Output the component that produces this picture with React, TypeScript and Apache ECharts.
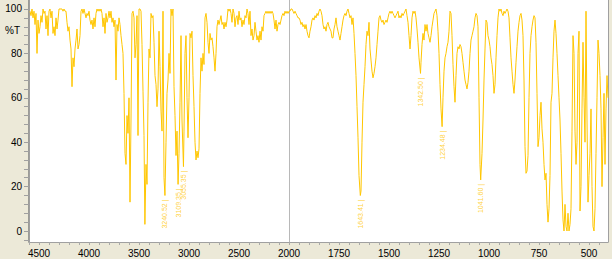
import React, { useEffect, useRef } from 'react';
import * as echarts from 'echarts';

// IR spectrum, wavenumber (cm-1) vs %T; region above 2000 cm-1
const highRange: [number, number][] = [
  [4590, 99], [4580, 97], [4570, 100], [4560, 96], [4550, 99], [4540, 93], [4530, 98], [4520, 80], [4510, 95], [4500, 89],
  [4490, 92], [4480, 97], [4470, 94], [4460, 100], [4450, 98], [4440, 99], [4430, 91], [4420, 97], [4410, 88], [4400, 99],
  [4390, 100], [4380, 96], [4370, 99], [4360, 89], [4350, 92], [4340, 88], [4330, 96], [4320, 91], [4310, 95], [4300, 100],
  [4290, 100], [4280, 100], [4270, 100], [4260, 99], [4250, 100], [4240, 99], [4230, 99], [4220, 94], [4210, 90], [4200, 92],
  [4190, 86], [4180, 82], [4170, 65], [4160, 78], [4150, 74], [4140, 82], [4130, 86], [4120, 91], [4110, 82], [4100, 84],
  [4090, 88], [4080, 99], [4070, 100], [4060, 98], [4050, 100], [4040, 98], [4030, 96], [4020, 98], [4010, 97], [4000, 99],
  [3990, 95], [3980, 93], [3970, 95], [3960, 91], [3950, 96], [3940, 92], [3930, 98], [3920, 100], [3910, 99], [3900, 100],
  [3890, 99], [3880, 100], [3870, 98], [3860, 92], [3850, 96], [3840, 89], [3830, 98], [3820, 94], [3810, 96], [3800, 99],
  [3790, 96], [3780, 99], [3770, 94], [3760, 96], [3750, 92], [3740, 95], [3730, 68], [3720, 93], [3710, 90], [3700, 96],
  [3690, 93], [3680, 88], [3670, 84], [3660, 80], [3650, 62], [3640, 35], [3630, 30], [3620, 52], [3610, 44], [3600, 60],
  [3590, 13], [3580, 50], [3570, 98], [3560, 99], [3550, 96], [3540, 78], [3530, 84], [3520, 97], [3510, 43], [3500, 100],
  [3490, 100], [3480, 99], [3470, 84], [3460, 63], [3450, 43], [3441, 3], [3430, 30], [3420, 21], [3410, 58], [3400, 82],
  [3390, 78], [3380, 98], [3370, 96], [3360, 97], [3350, 85], [3340, 70], [3330, 66], [3320, 56], [3310, 64], [3300, 90],
  [3290, 74], [3280, 54], [3270, 45], [3260, 99], [3250, 24], [3240.52, 16], [3230, 40], [3220, 62], [3210, 68], [3200, 80],
  [3190, 71], [3180, 100], [3170, 97], [3160, 100], [3150, 65], [3140, 52], [3130, 34], [3120, 45], [3109.35, 21], [3100, 35],
  [3090, 58], [3080, 88], [3070, 50], [3055.35, 29], [3050, 45], [3040, 80], [3030, 88], [3020, 60], [3010, 42], [3000, 60],
  [2990, 89], [2980, 87], [2970, 90], [2960, 70], [2950, 56], [2940, 40], [2930, 32], [2920, 36], [2910, 33], [2900, 37],
  [2890, 62], [2880, 78], [2870, 72], [2860, 80], [2850, 75], [2840, 96], [2830, 98], [2820, 94], [2810, 85], [2800, 80],
  [2790, 89], [2780, 86], [2770, 87], [2760, 83], [2750, 78], [2740, 72], [2730, 80], [2720, 92], [2710, 95], [2700, 93],
  [2690, 95], [2680, 97], [2670, 93], [2660, 94], [2650, 91], [2640, 94], [2630, 92], [2620, 95], [2610, 100], [2600, 99],
  [2590, 100], [2580, 98], [2570, 94], [2560, 100], [2550, 98], [2540, 92], [2530, 96], [2520, 97], [2510, 93], [2500, 99],
  [2490, 95], [2480, 96], [2470, 92], [2460, 95], [2450, 93], [2440, 97], [2430, 96], [2420, 100], [2410, 98], [2400, 93],
  [2390, 99], [2380, 88], [2370, 91], [2360, 86], [2350, 88], [2340, 94], [2330, 90], [2320, 86], [2310, 88], [2300, 85],
  [2290, 90], [2280, 86], [2270, 92], [2260, 90], [2250, 97], [2240, 98], [2230, 99], [2220, 98], [2210, 99], [2200, 98],
  [2190, 99], [2180, 98], [2170, 99], [2160, 98], [2150, 95], [2140, 91], [2130, 95], [2120, 90], [2110, 93], [2100, 94],
  [2090, 93], [2080, 95], [2070, 97], [2060, 98], [2050, 97], [2040, 99], [2030, 98], [2020, 99], [2010, 98], [2000, 99],
];

// region below 2000 cm-1 (drawn at double scale)
const lowRange: [number, number][] = [
  [2000, 99], [1995, 99], [1990, 100], [1985, 100], [1980, 99], [1975, 98], [1970, 99], [1965, 98], [1960, 97], [1955, 96],
  [1950, 96], [1945, 95], [1940, 93], [1935, 94], [1930, 92], [1925, 93], [1920, 91], [1915, 93], [1910, 90], [1905, 88],
  [1900, 87], [1895, 90], [1890, 92], [1885, 95], [1880, 96], [1875, 95], [1870, 97], [1865, 96], [1860, 98], [1855, 97],
  [1850, 99], [1845, 100], [1840, 99], [1835, 97], [1830, 93], [1825, 91], [1820, 92], [1815, 90], [1810, 93], [1805, 94],
  [1800, 92], [1795, 91], [1790, 90], [1785, 87], [1780, 87], [1775, 91], [1770, 93], [1765, 96], [1760, 92], [1755, 90],
  [1750, 88], [1745, 86], [1740, 89], [1735, 92], [1730, 95], [1725, 97], [1720, 98], [1715, 97], [1710, 99], [1705, 100],
  [1700, 98], [1695, 96], [1690, 97], [1685, 93], [1680, 96], [1675, 89], [1670, 80], [1665, 70], [1660, 56], [1655, 42],
  [1650, 25], [1643.41, 16], [1640, 18], [1635, 40], [1630, 58], [1625, 66], [1620, 74], [1615, 84], [1610, 90], [1605, 88],
  [1600, 94], [1595, 82], [1590, 77], [1585, 72], [1580, 69], [1575, 71], [1570, 74], [1565, 78], [1560, 84], [1555, 90],
  [1550, 96], [1545, 97], [1540, 95], [1535, 94], [1530, 95], [1525, 93], [1520, 94], [1515, 95], [1510, 94], [1505, 96],
  [1500, 98], [1495, 99], [1490, 98], [1485, 99], [1480, 98], [1475, 97], [1470, 96], [1465, 97], [1460, 98], [1455, 99],
  [1450, 96], [1445, 97], [1440, 96], [1435, 98], [1430, 97], [1425, 98], [1420, 99], [1415, 100], [1410, 97], [1405, 94],
  [1400, 88], [1395, 82], [1390, 88], [1385, 96], [1380, 99], [1375, 98], [1370, 99], [1365, 96], [1360, 91], [1355, 85],
  [1350, 78], [1342.5, 71], [1340, 76], [1335, 84], [1330, 89], [1325, 86], [1320, 93], [1315, 90], [1310, 93], [1305, 89],
  [1300, 87], [1295, 85], [1290, 88], [1285, 92], [1280, 95], [1275, 98], [1270, 99], [1265, 100], [1260, 97], [1255, 90],
  [1250, 80], [1245, 66], [1240, 55], [1234.48, 47], [1230, 60], [1225, 72], [1220, 78], [1215, 80], [1210, 83], [1205, 85],
  [1200, 90], [1195, 99], [1190, 98], [1185, 88], [1180, 75], [1175, 65], [1170, 58], [1165, 70], [1160, 80], [1155, 83],
  [1150, 82], [1145, 84], [1140, 83], [1135, 80], [1130, 76], [1125, 72], [1120, 68], [1115, 66], [1110, 64], [1105, 67],
  [1100, 72], [1095, 80], [1090, 86], [1085, 88], [1080, 90], [1075, 92], [1070, 96], [1065, 98], [1060, 97], [1055, 92],
  [1050, 60], [1045, 30], [1041.6, 23], [1035, 35], [1030, 50], [1025, 68], [1020, 82], [1015, 95], [1010, 94], [1005, 88],
  [1000, 86], [995, 83], [990, 78], [985, 75], [980, 70], [975, 62], [970, 66], [965, 78], [960, 88], [955, 96],
  [950, 100], [945, 99], [940, 100], [935, 98], [930, 97], [925, 99], [920, 98], [915, 99], [910, 100], [905, 99],
  [900, 96], [895, 87], [890, 78], [885, 72], [880, 66], [875, 62], [870, 68], [865, 76], [860, 83], [855, 90],
  [850, 94], [845, 97], [840, 98], [835, 95], [830, 88], [825, 68], [820, 38], [815, 26], [810, 27], [805, 34],
  [800, 60], [795, 80], [790, 88], [785, 92], [780, 95], [775, 97], [770, 96], [765, 85], [760, 62], [755, 38],
  [750, 42], [745, 52], [740, 58], [735, 46], [730, 40], [725, 30], [720, 23], [715, 26], [710, 12], [705, 4],
  [700, 10], [695, 25], [690, 58], [685, 62], [680, 78], [675, 90], [670, 95], [665, 89], [660, 80], [655, 70],
  [650, 60], [645, 50], [640, 35], [635, 18], [630, 5], [625, 0], [620, 12], [615, 2], [610, 0], [605, 8],
  [600, 0], [595, 3], [590, 10], [585, 45], [580, 88], [575, 80], [570, 45], [565, 30], [560, 40], [555, 80],
  [550, 90], [545, 9], [540, 20], [535, 55], [530, 85], [525, 60], [520, 40], [515, 99], [510, 50], [505, 13],
  [500, 25], [495, 35], [490, 55], [485, 20], [480, 2], [475, 0], [470, 10], [465, 35], [460, 60], [455, 86],
  [450, 80], [445, 70], [440, 55], [435, 20], [430, 42], [425, 62], [420, 30], [415, 55], [410, 70], [405, 60],
];

const peakWavenumbers = [3240.52, 3109.35, 3055.35, 1643.41, 1342.5, 1234.48, 1041.6];
const peakTransmittance = [16, 21, 29, 16, 71, 47, 23];

const yLabelValues = [0, 20, 40, 60, 80, 100];
const xLabelsHigh = [4500, 4000, 3500, 3000, 2500, 2000];
const xLabelsLow = [1750, 1500, 1250, 1000, 750, 500];

const yTicks: number[] = [];
for (let v = -4; v <= 100; v += 4) yTicks.push(v);
const xTicksHigh: number[] = [];
for (let v = 2000; v <= 4600; v += 100) xTicksHigh.push(v);
const xTicksLow: number[] = [];
for (let v = 450; v <= 2000; v += 50) xTicksLow.push(v);

const FONT = '"Liberation Sans Narrow", "Liberation Sans", Arial, sans-serif';
const LINE = '#FFC600';
const Y_MIN = -4.95;
const Y_MAX = 104.05;

export default function App() {
  const ref = useRef<HTMLDivElement>(null);
  useEffect(() => {
    if (!ref.current) return;
    const chart = echarts.init(ref.current, undefined, { renderer: 'svg' });

    const peaksHigh: [number, number][] = [];
    const peaksLow: [number, number][] = [];
    peakWavenumbers.forEach((w, i) => {
      (w > 2000 ? peaksHigh : peaksLow).push([w, peakTransmittance[i]]);
    });

    const xAxisBase = (gridIndex: number, min: number, max: number, ticks: number[], labels: number[]) => ({
      type: 'value',
      gridIndex,
      inverse: true,
      min,
      max,
      axisLine: { show: true, onZero: false, lineStyle: { color: '#A0A0A0', width: 1 } },
      axisTick: { show: true, length: 3, customValues: ticks, lineStyle: { color: '#A8A8A8' } },
      axisLabel: {
        show: true,
        customValues: labels,
        margin: 6,
        fontSize: 10,
        color: '#000',
        fontFamily: FONT,
        formatter: (v: number) => String(Math.round(v)),
      },
      splitLine: { show: false },
    });

    const peakLabel = {
      show: true,
      position: 'bottom',
      distance: 4,
      rotate: 90,
      align: 'right',
      verticalAlign: 'middle',
      color: LINE,
      fontSize: 7,
      fontFamily: '"Liberation Sans", Arial, sans-serif',
      formatter: (p: any) => p.value[0].toFixed(2) + ' |',
    };

    chart.setOption({
      animation: false,
      backgroundColor: '#ECE9D8',
      grid: [
        { left: 29, top: 0, width: 260, height: 242, show: true, backgroundColor: '#FFFFFF', borderWidth: 0 },
        { left: 289, top: 0, width: 319, height: 242, show: true, backgroundColor: '#FFFFFF', borderWidth: 0 },
      ],
      xAxis: [
        xAxisBase(0, 2000, 4600, xTicksHigh, xLabelsHigh),
        xAxisBase(1, 405, 2000, xTicksLow, xLabelsLow),
      ],
      yAxis: [
        {
          type: 'value',
          gridIndex: 0,
          min: Y_MIN,
          max: Y_MAX,
          axisLine: { show: true, onZero: false, lineStyle: { color: '#808080', width: 1.5 } },
          axisTick: { show: true, length: 5, customValues: yTicks, lineStyle: { color: '#A0A0A0' } },
          axisLabel: {
            show: true,
            customValues: yLabelValues,
            margin: 7,
            fontSize: 10,
            color: '#000',
            fontFamily: FONT,
            formatter: (v: number) => String(Math.round(v)),
          },
          splitLine: { show: false },
        },
        {
          type: 'value',
          gridIndex: 1,
          min: Y_MIN,
          max: Y_MAX,
          position: 'left',
          axisLine: { show: true, onZero: false, lineStyle: { color: '#B8B8B8', width: 1 } },
          axisTick: { show: false },
          axisLabel: { show: false },
          splitLine: { show: false },
        },
        {
          type: 'value',
          gridIndex: 1,
          min: Y_MIN,
          max: Y_MAX,
          position: 'right',
          axisLine: { show: true, onZero: false, lineStyle: { color: '#A0A0A0', width: 1 } },
          axisTick: { show: false },
          axisLabel: { show: false },
          splitLine: { show: false },
        },
      ],
      graphic: [
        {
          type: 'text',
          left: 5,
          top: 25,
          style: { text: '%T', fontSize: 10, fill: '#000', fontFamily: FONT },
        },
      ],
      series: [
        {
          type: 'line',
          xAxisIndex: 0,
          yAxisIndex: 0,
          data: highRange,
          showSymbol: false,
          lineStyle: { color: LINE, width: 1 },
          clip: true,
        },
        {
          type: 'line',
          xAxisIndex: 1,
          yAxisIndex: 1,
          data: lowRange,
          showSymbol: false,
          lineStyle: { color: LINE, width: 1 },
          clip: true,
        },
        {
          type: 'scatter',
          xAxisIndex: 0,
          yAxisIndex: 0,
          data: peaksHigh,
          symbolSize: 0,
          label: peakLabel,
          silent: true,
        },
        {
          type: 'scatter',
          xAxisIndex: 1,
          yAxisIndex: 1,
          data: peaksLow,
          symbolSize: 0,
          label: peakLabel,
          silent: true,
        },
      ],
    });
    return () => chart.dispose();
  }, []);

  return <div ref={ref} style={{ position: 'fixed', left: 0, top: 0, width: 612, height: 259 }} />;
}
